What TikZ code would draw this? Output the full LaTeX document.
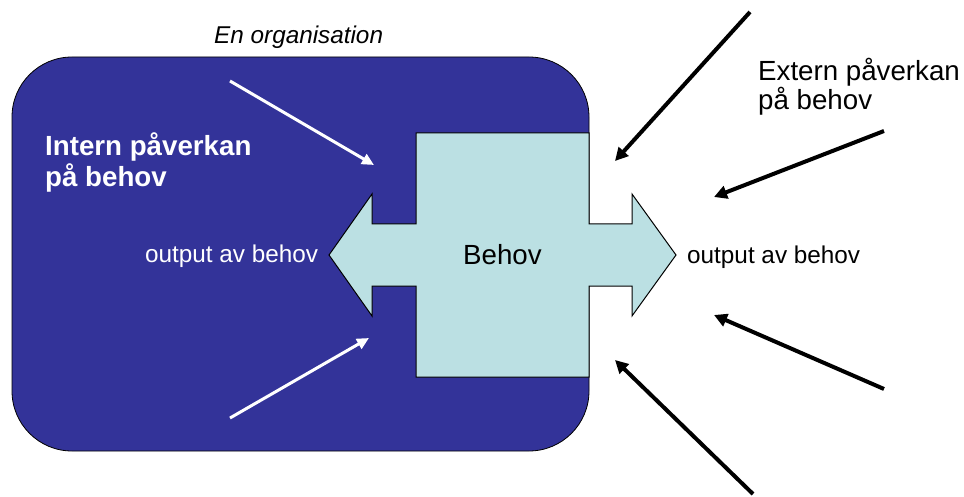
\documentclass[tikz,border=0pt]{standalone}
\usepackage{fontspec}
\setmainfont{Liberation Sans}
\usetikzlibrary{arrows.meta}
\definecolor{orgblue}{HTML}{333399}
\definecolor{needfill}{HTML}{BBE0E3}
\tikzset{
  label text/.style={inner sep=0pt, anchor=base west, align=left},
  big text/.style={font=\fontsize{27.7}{31}\selectfont},
  small text/.style={font=\fontsize{24.3}{28}\selectfont},
  inner arrow/.style={draw=white, line width=3pt, -{Triangle[length=12pt,width=11pt]}},
  outer arrow/.style={draw=black, line width=4pt, -{Triangle[length=13pt,width=13pt]}},
}
\begin{document}
\begin{tikzpicture}[x=1pt, y=-1pt]
  \useasboundingbox (0,0) rectangle (964,497);

  % the organisation
  \draw[fill=orgblue, draw=black, line width=0.8pt, rounded corners=60pt]
    (12,57) rectangle (589,451);

  % the need: a square with a double arrow through it
  \draw[fill=needfill, draw=black, line width=1pt, line join=miter]
    (416,133) -- (589,133) -- (589,224) -- (632,224) -- (632,194) -- (676,255)
    -- (632,316) -- (632,286) -- (589,286) -- (589,377) -- (416,377) -- (416,286)
    -- (372,286) -- (372,316) -- (329,255) -- (372,194) -- (372,224) -- (416,224)
    -- cycle;

  \node[label text, big text] (behov) at (463,265) {Behov};

  \node[label text, small text, font=\fontsize{24.3}{28}\itshape] (org) at (214,43.5) {En organisation};
  % two-line labels: the base anchor sits on the last line
  \node[label text, big text, font=\fontsize{27.7}{31.5}\bfseries, text=white] (intern) at (45,187)
    {Intern påverkan\\på behov};
  \node[label text, big text, font=\fontsize{27.7}{29.5}\selectfont] (extern) at (758,110)
    {Extern påverkan\\på behov};
  \node[label text, small text, text=white] (outleft) at (145,262.5) {output av behov};
  \node[label text, small text] (outright) at (687,263) {output av behov};

  % internal influences
  \coordinate (i1s) at (230,81);
  \coordinate (i1e) at (374,165);
  \coordinate (i2s) at (230,418);
  \coordinate (i2e) at (369,338);
  \draw[inner arrow] (i1s) -- (i1e);
  \draw[inner arrow] (i2s) -- (i2e);

  % external influences
  \coordinate (e1s) at (750,12);
  \coordinate (e1e) at (615,161);
  \coordinate (e2s) at (884,131);
  \coordinate (e2e) at (714,197);
  \coordinate (e3s) at (884,389);
  \coordinate (e3e) at (714,315);
  \coordinate (e4s) at (753,494);
  \coordinate (e4e) at (615,360);
  \draw[outer arrow] (e1s) -- (e1e);
  \draw[outer arrow] (e2s) -- (e2e);
  \draw[outer arrow] (e3s) -- (e3e);
  \draw[outer arrow] (e4s) -- (e4e);
\end{tikzpicture}
\end{document}
